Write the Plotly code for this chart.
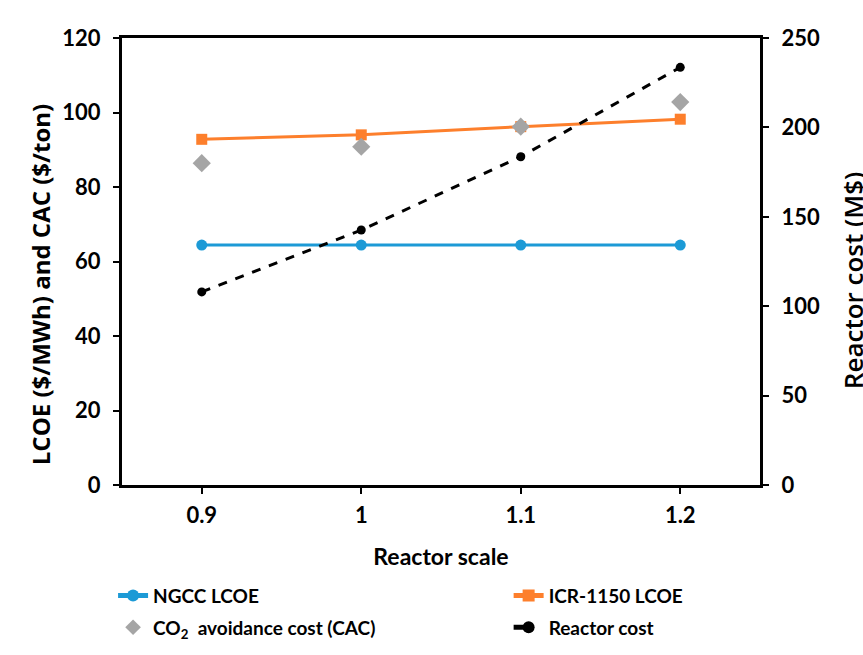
import plotly.graph_objects as go

# Reactor scale factors
scale = [0.9, 1.0, 1.1, 1.2]
scale_labels = ["0.9", "1", "1.1", "1.2"]

# Left axis: LCOE ($/MWh) and CO2 avoidance cost ($/ton)
ngcc_lcoe = [64.4, 64.4, 64.4, 64.4]
icr_lcoe = [92.8, 94.0, 96.2, 98.2]
cac = [86.4, 90.8, 96.2, 102.8]

# Right axis: reactor cost (M$)
reactor_cost = [108, 142.6, 183.6, 233.6]

NUM_FONT = dict(family="Lato, Liberation Sans", size=22, color="black", weight="bold")
LEG_FONT = dict(family="Lato, Liberation Sans", size=19, color="black", weight="bold")

fig = go.Figure()
fig.add_trace(go.Scatter(
    x=scale, y=ngcc_lcoe, name="NGCC LCOE", mode="lines+markers",
    line=dict(color="#1c9ad6", width=3),
    marker=dict(symbol="circle", size=11, color="#1c9ad6"),
    legend="legend", legendgroup="a",
))
fig.add_trace(go.Scatter(
    x=scale, y=icr_lcoe, name="ICR-1150 LCOE", mode="lines+markers",
    line=dict(color="#fd7f2c", width=3),
    marker=dict(symbol="square", size=11, color="#fd7f2c"),
    legend="legend2", legendgroup="b",
))
fig.add_trace(go.Scatter(
    x=scale, y=cac, name="CO<sub>2</sub>  avoidance cost (CAC)", mode="markers",
    marker=dict(symbol="diamond", size=14, color="#a5a5a5"),
    legend="legend", legendgroup="c",
))
fig.add_trace(go.Scatter(
    x=scale, y=reactor_cost, name="Reactor cost", mode="lines+markers",
    yaxis="y2",
    line=dict(color="black", width=3, dash="dash"),
    marker=dict(symbol="circle", size=9, color="black"),
    legend="legend2", legendgroup="d",
))

legend_common = dict(
    orientation="v", y=-0.205, xanchor="left", yanchor="top",
    font=LEG_FONT, tracegroupgap=4, bgcolor="rgba(0,0,0,0)",
    itemsizing="constant",
)

fig.update_layout(
    width=863, height=655,
    margin=dict(l=122, r=103, t=38, b=170, autoexpand=False),
    plot_bgcolor="white", paper_bgcolor="white",
    showlegend=True,
    legend=dict(x=-0.014, **legend_common),
    legend2=dict(x=0.606, **legend_common),
    xaxis=dict(
        range=[0.85, 1.25], tickvals=scale, ticktext=scale_labels,
        showline=True, linecolor="black", linewidth=3, mirror=True,
        ticks="outside", ticklen=6, tickwidth=2, tickcolor="black",
        showgrid=False, zeroline=False, tickfont=NUM_FONT, ticklabelstandoff=3,
        title=dict(text="Reactor scale",
                   font=dict(family="Lato, Liberation Sans", size=23, color="black", weight="bold"),
                   standoff=22),
    ),
    yaxis=dict(
        range=[0, 120], dtick=20, showline=True, linecolor="black", linewidth=3,
        ticks="outside", ticklen=6, tickwidth=2, tickcolor="black",
        showgrid=False, zeroline=False, tickfont=NUM_FONT, ticklabelstandoff=8,
    ),
    yaxis2=dict(
        range=[0, 250], dtick=50, overlaying="y", side="right",
        showline=True, linecolor="black", linewidth=3,
        ticks="outside", ticklen=6, tickwidth=2, tickcolor="black",
        showgrid=False, zeroline=False, tickfont=NUM_FONT, ticklabelstandoff=8,
    ),
    annotations=[
        dict(text="LCOE ($/MWh) and CAC ($/ton)", xref="paper", yref="paper",
             x=-0.1285, y=0.447, textangle=-90, showarrow=False,
             xanchor="center", yanchor="middle",
             font=dict(family="Open Sans, DejaVu Sans", size=24, color="black", weight="bold")),
        dict(text="Reactor cost (M$)", xref="paper", yref="paper",
             x=1.1458, y=0.456, textangle=-90, showarrow=False,
             xanchor="center", yanchor="middle",
             font=dict(family="Open Sans, DejaVu Sans", size=26, color="black", weight=600)),
    ],
)

fig.write_html("out.html")
